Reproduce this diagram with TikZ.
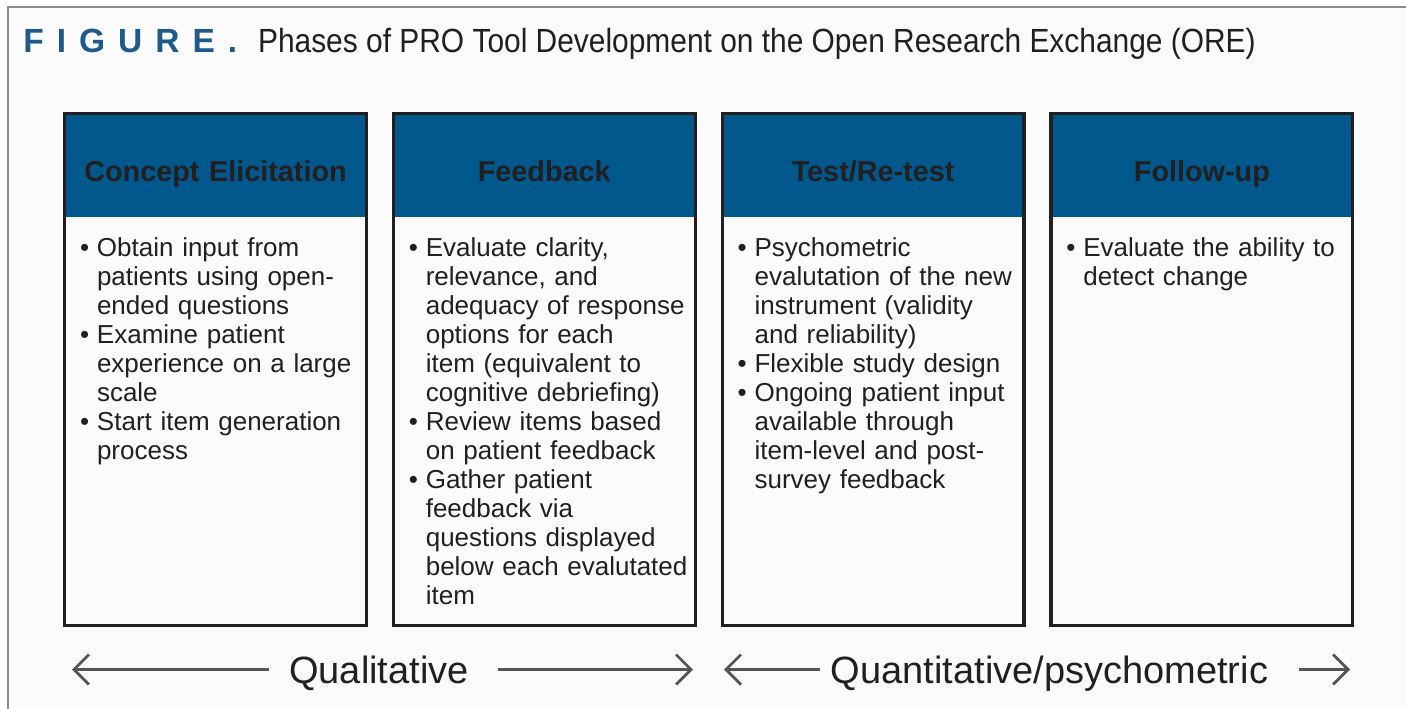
\documentclass[tikz,border=0pt]{standalone}
\usepackage{fontspec}
\setmainfont{Liberation Sans}
\newfontfamily\captionfont[FakeStretch=0.893]{Liberation Sans}
\usetikzlibrary{arrows.meta,fit,positioning}
\definecolor{ink}{HTML}{231F20}
\definecolor{panelFill}{HTML}{FBFBFB}
\definecolor{panelLine}{HTML}{8C8C8C}
\definecolor{headBlue}{HTML}{00588C}
\definecolor{tagBlue}{HTML}{1E5A8C}
\definecolor{arrowGray}{HTML}{555555}
% bullet with hanging indent, lines broken by hand
\newcommand{\phaseitem}{\par\hangindent=8.5pt\hangafter=1\noindent\makebox[8.5pt][l]{\textbullet}}
\tikzset{
  panel/.style={
    draw=panelLine,
    fill=panelFill,
    line width=1pt
  },
  fig tag/.style={
    font=\bfseries\fontsize{16.75pt}{20pt}\selectfont,
    text=tagBlue,
    inner sep=0pt,
    anchor=base west
  },
  fig title/.style={
    font=\captionfont\fontsize{16.75pt}{20pt}\selectfont,
    text=ink,
    inner sep=0pt,
    anchor=base west
  },
  phase head/.style={
    fill=headBlue,
    text=ink,
    font=\bfseries\fontsize{14.4pt}{17pt}\selectfont,
    text width=150.5pt,
    inner xsep=0pt,
    minimum height=51.5pt,
    text height=15.5pt,
    text depth=0pt,
    align=center
  },
  phase body/.style={
    anchor=north west,
    text width=145pt,
    inner xsep=7.5pt,
    inner ysep=5pt,
    align=left,
    font=\fontsize{13pt}{14.5pt}\selectfont,
    text=ink
  },
  phase frame/.style={
    draw=ink,
    line width=1.6pt,
    inner sep=0pt
  },
  span label/.style={
    font=\fontsize{19pt}{22pt}\selectfont,
    text=ink,
    inner sep=0pt,
    text height=13.6pt,
    text depth=0pt
  },
  span arrow/.style={
    -{Straight Barb[length=7.5pt,width=15pt]},
    draw=arrowGray,
    line width=1.4pt
  }
}

\begin{document}
\begin{tikzpicture}[x=0.5pt,y=-0.5pt,node distance=13.5pt]
  \useasboundingbox (0,0) rectangle (1406,708);
  \clip (0,0) rectangle (1406,708);
  \draw[panel] (8,7) rectangle (1430,730);

  % caption
  \node[fig tag] (fig-tag) at (23,52) {\spaceskip=6.5pt\relax F I G U R E .};
  \node[fig title] (fig-title) at ([xshift=10pt]fig-tag.base east)
    {Phases of PRO Tool Development on the Open Research Exchange (ORE)};

  % phase headers
  \node[phase head] (elicit-head) at (215.5,165.5) {Concept Elicitation};
  \node[phase head,right=of elicit-head] (feedback-head) {Feedback};
  \node[phase head,right=of feedback-head] (retest-head) {Test/Re-test};
  \node[phase head,right=of retest-head] (followup-head) {Follow-up};

  % phase contents
  \node[phase body] (elicit-body) at (elicit-head.south west) {
    \phaseitem Obtain input from\newline patients using open-\newline ended questions
    \phaseitem Examine patient\newline experience on a large\newline scale
    \phaseitem Start item generation\newline process\par
  };
  \node[phase body] (feedback-body) at (feedback-head.south west) {
    \phaseitem Evaluate clarity,\newline relevance, and\newline adequacy of response\newline
      options for each\newline item (equivalent to\newline cognitive debriefing)
    \phaseitem Review items based\newline on patient feedback
    \phaseitem Gather patient\newline feedback via\newline questions displayed\newline
      below each evalutated\newline item\par
  };
  \node[phase body] (retest-body) at (retest-head.south west) {
    \phaseitem Psychometric\newline evalutation of the new\newline instrument (validity\newline
      and reliability)
    \phaseitem Flexible study design
    \phaseitem Ongoing patient input\newline available through\newline item-level and post-\newline
      survey feedback\par
  };
  \node[phase body] (followup-body) at (followup-head.south west) {
    \phaseitem Evaluate the ability to\newline detect change\par
  };

  % card outlines
  \coordinate[below=204pt of elicit-head.south] (elicit-foot);
  \coordinate[below=204pt of feedback-head.south] (feedback-foot);
  \coordinate[below=204pt of retest-head.south] (retest-foot);
  \coordinate[below=204pt of followup-head.south] (followup-foot);
  \node[phase frame,fit=(elicit-head)(elicit-foot)] (elicit) {};
  \node[phase frame,fit=(feedback-head)(feedback-foot)] (feedback) {};
  \node[phase frame,fit=(retest-head)(retest-foot)] (retest) {};
  \node[phase frame,fit=(followup-head)(followup-foot)] (followup) {};

  % method spans
  \node[span label] (qual) at (379,669.5) {Qualitative};
  \node[span label] (quant) at (1049.5,669.5) {Quantitative/psychometric};
  \coordinate (qual-start) at (72,669.5);
  \coordinate (qual-end) at (693,669.5);
  \coordinate (quant-start) at (724,669.5);
  \coordinate (quant-end) at (1350,669.5);
  \draw[span arrow] ([xshift=-10pt]qual.west) -- (qual-start);
  \draw[span arrow] ([xshift=14.5pt]qual.east) -- (qual-end);
  \draw[span arrow] ([xshift=-5.5pt]quant.west) -- (quant-start);
  \draw[span arrow] ([xshift=15pt]quant.east) -- (quant-end);
\end{tikzpicture}
\end{document}
